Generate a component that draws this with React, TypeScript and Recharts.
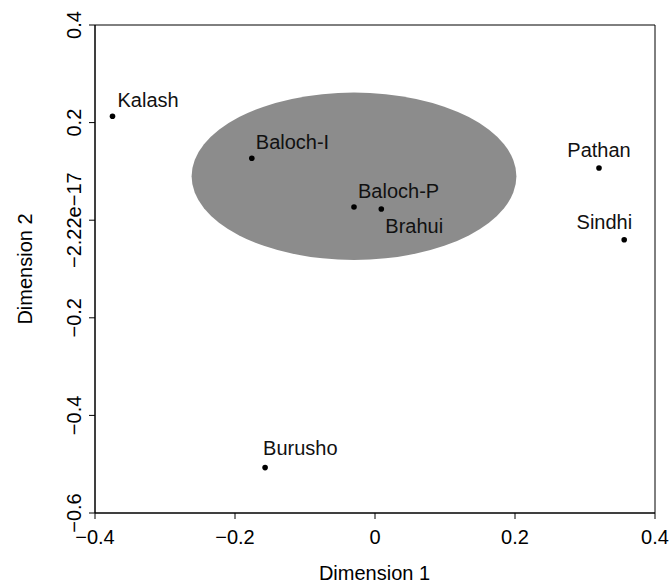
import { ReferenceArea, Scatter, ScatterChart, XAxis, YAxis } from 'recharts'

const groups = ['Kalash', 'Baloch-I', 'Baloch-P', 'Brahui', 'Pathan', 'Sindhi', 'Burusho']
const dim1 = [-0.375, -0.176, -0.03, 0.009, 0.32, 0.356, -0.157]
const dim2 = [0.213, 0.127, 0.027, 0.023, 0.107, -0.04, -0.507]

const xTicks = [-0.4, -0.2, 0, 0.2, 0.4]
const yTicks = [-0.6, -0.4, -0.2, 0, 0.2, 0.4]

// grey ellipse: centre and half-axes in data units
const ellipseCenter = [-0.03, 0.09]
const ellipseRadius = [0.232, 0.1715]

const points = groups.map((name, i) => ({ name, x: dim1[i], y: dim2[i] }))

// where each label sits relative to its dot (px)
const labelPlace: Record<string, { dx: number; dy: number; anchor: string }> = {
  Kalash: { dx: 5, dy: -9, anchor: 'start' },
  'Baloch-I': { dx: 4, dy: -9, anchor: 'start' },
  'Baloch-P': { dx: 4, dy: -9, anchor: 'start' },
  Brahui: { dx: 4, dy: 24, anchor: 'start' },
  Pathan: { dx: 0, dy: -11, anchor: 'middle' },
  Sindhi: { dx: 8, dy: -11, anchor: 'end' },
  Burusho: { dx: -2, dy: -13, anchor: 'start' },
}

const font = '"Liberation Sans", Arial, sans-serif'
const minus = (v: number) => (v < 0 ? '\u2212' + String(Math.abs(v)) : String(v))

const XTick = (props: any) => {
  const { x, y, payload } = props
  return (
    <text x={x} y={y + 23} textAnchor="middle" fontSize={20} fill="#000" fontFamily={font}>
      {minus(payload.value)}
    </text>
  )
}

const YTick = (props: any) => {
  const { x, y, payload } = props
  const label = payload.value === 0 ? '\u22122.22e\u221217' : minus(payload.value)
  return (
    <text transform={`translate(${x - 6},${y}) rotate(-90)`} textAnchor="middle" fontSize={20} fill="#000" fontFamily={font}>
      {label}
    </text>
  )
}

const Dot = (props: any) => {
  const { cx, cy, payload } = props
  const p = labelPlace[payload.name]
  return (
    <g>
      <circle cx={cx} cy={cy} r={2.8} fill="#000" />
      <text x={cx + p.dx} y={cy + p.dy} textAnchor={p.anchor} fontSize={20} fill="#111" fontFamily={font}>
        {payload.name}
      </text>
    </g>
  )
}

const EllipseShape = (props: any) => {
  const { x, y, width, height } = props
  return <ellipse cx={x + width / 2} cy={y + height / 2} rx={width / 2} ry={height / 2} fill="#8c8c8c" />
}

const xTitle = () => (
  <text x={374.5} y={580} textAnchor="middle" fontSize={20} fill="#000" fontFamily={font}>
    Dimension 1
  </text>
)

const yTitle = () => (
  <text transform="translate(31.5,269) rotate(-90)" textAnchor="middle" fontSize={20} fill="#000" fontFamily={font}>
    Dimension 2
  </text>
)

export default function App() {
  return (
    <div style={{ position: 'absolute', left: 0, top: 0, background: '#fff' }}>
      <ScatterChart width={669} height={583} margin={{ top: 25, right: 14, left: 0, bottom: 0 }}>
        <XAxis
          type="number"
          dataKey="x"
          domain={[-0.4, 0.4]}
          ticks={xTicks}
          allowDataOverflow
          height={70}
          tickSize={6}
          tick={<XTick />}
          stroke="#000"
          label={{ content: xTitle }}
        />
        <YAxis
          type="number"
          dataKey="y"
          domain={[-0.6, 0.4]}
          ticks={yTicks}
          allowDataOverflow
          width={95}
          tickSize={6}
          tick={<YTick />}
          stroke="#000"
          label={{ content: yTitle }}
        />
        <ReferenceArea
          x1={ellipseCenter[0] - ellipseRadius[0]}
          x2={ellipseCenter[0] + ellipseRadius[0]}
          y1={ellipseCenter[1] - ellipseRadius[1]}
          y2={ellipseCenter[1] + ellipseRadius[1]}
          shape={<EllipseShape />}
        />
        <ReferenceArea x1={-0.4} x2={0.4} y1={-0.6} y2={0.4} fill="none" fillOpacity={0} stroke="#000" strokeWidth={1} ifOverflow="visible" />
        <Scatter data={points} shape={<Dot />} isAnimationActive={false} />
      </ScatterChart>
    </div>
  )
}
